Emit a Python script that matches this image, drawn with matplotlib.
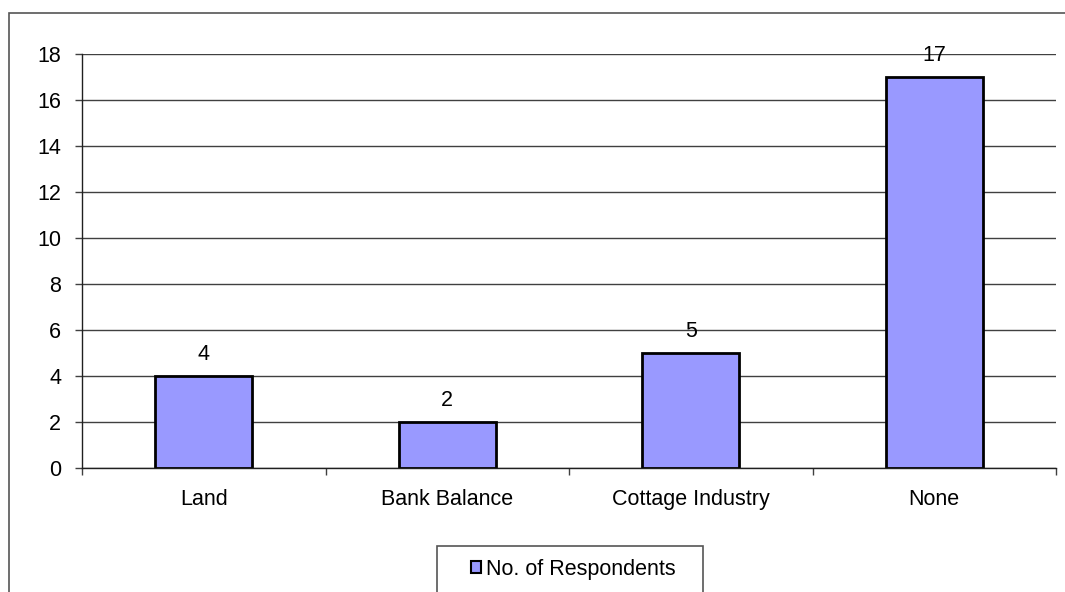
import matplotlib
matplotlib.use("Agg")
import matplotlib.pyplot as plt
from matplotlib.patches import Rectangle, Patch
import numpy as np

categories = ["Land", "Bank Balance", "Cottage Industry", "None"]
respondents = [4, 2, 5, 17]
yticks = [0, 2, 4, 6, 8, 10, 12, 14, 16, 18]
series_name = "No. of Respondents"

plt.rcParams['font.family'] = ['Liberation Sans', 'DejaVu Sans']
FS = 15.5
W, H = 1065, 592
fig = plt.figure(figsize=(W / 100, H / 100), dpi=100)
ax = fig.add_axes([82 / W, 1 - 468 / H, (1056 - 82) / W, (468 - 54) / H])

x = np.arange(len(categories))
bars = ax.bar(x, respondents, width=0.4, color="#9999FF", edgecolor="black",
              linewidth=2, zorder=3)
ax.bar_label(bars, labels=[str(v) for v in respondents], padding=8, fontsize=FS, zorder=4)

ax.set_xlim(-0.5, len(categories) - 0.5)
ax.set_ylim(0, 18)
ax.set_yticks(yticks)
ax.set_yticklabels([str(v) for v in yticks], fontsize=FS)
ax.set_xticks(x)
ax.set_xticklabels(categories, fontsize=FS)
ax.set_xticks(np.arange(len(categories) + 1) - 0.5, minor=True)
ax.tick_params(axis='x', which='major', length=0, pad=15)
ax.tick_params(axis='x', which='minor', length=5, width=1, color='#404040', direction='out')
ax.tick_params(axis='y', length=5, width=1, color='#404040', pad=10)

ax.yaxis.grid(True, color='#404040', linewidth=1, zorder=0)
ax.set_axisbelow(True)
for s in ['top', 'right']:
    ax.spines[s].set_visible(False)
for s in ['left', 'bottom']:
    ax.spines[s].set_color('#202020')
    ax.spines[s].set_linewidth(1)
    ax.spines[s].set_zorder(5)

# figure border (cut off on right and bottom like the reference)
fig.patches.append(Rectangle((9 / W, -0.05), 1.1, 1 - 13 / H + 0.05, transform=fig.transFigure,
                             fill=False, edgecolor='#555555', linewidth=1.2))

# legend box
fig.patches.append(Rectangle((437 / W, -0.05), (703 - 437) / W, 1 - 546 / H + 0.05,
                             transform=fig.transFigure, fill=False, edgecolor='#555555', linewidth=1.2))
handle = Patch(facecolor="#9999FF", edgecolor="black", linewidth=1.5, label=series_name)
fig.legend(handles=[handle], loc='center', bbox_to_anchor=(573 / W, 1 - 569 / H),
           frameon=False, fontsize=FS, handlelength=0.5, handleheight=0.5, handletextpad=0.2)

fig.savefig("out.png", dpi=100, facecolor='white')
